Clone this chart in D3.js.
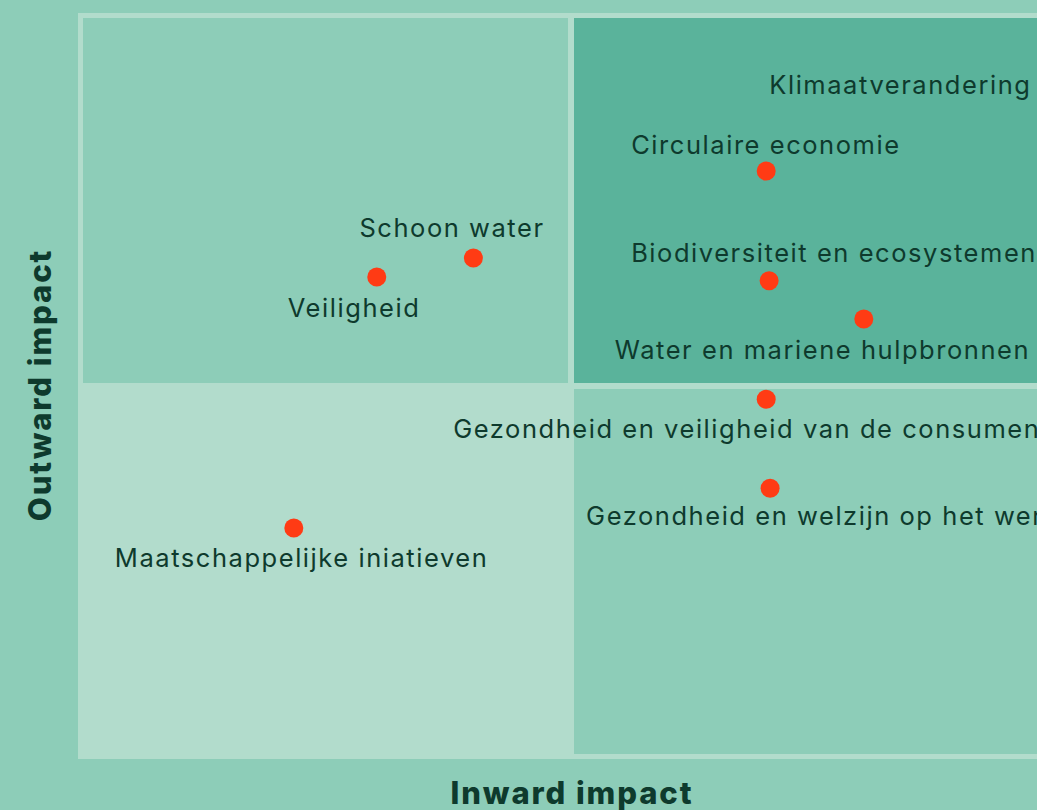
<!DOCTYPE html>
<html>
<head>
<meta charset="utf-8">
<script src="https://cdn.jsdelivr.net/npm/d3@7"></script>
<style>
  html, body { margin: 0; padding: 0; background: #8dcdb8; overflow: hidden; }
  svg { display: block; }
</style>
</head>
<body>
<div id="chart"></div>
<script>
// ---- data ----
const topics = [
  "Klimaatverandering",
  "Circulaire economie",
  "Schoon water",
  "Biodiversiteit en ecosystemen",
  "Veiligheid",
  "Water en mariene hulpbronnen",
  "Gezondheid en veiligheid van de consumenten",
  "Gezondheid en welzijn op het werk",
  "Maatschappelijke iniatieven"
];
const inwardImpact  = [9.9, 7.0, 4.0, 7.03, 3.01, 8.0, 7.0, 7.04, 2.16];
const outwardImpact = [8.71, 7.92, 6.74, 6.43, 6.48, 5.91, 4.82, 3.61, 3.07];
const xTitle = "Inward impact";
const yTitle = "Outward impact";

// ---- layout ----
const W = 1037, H = 810;
const labelDx = [-280, -135, -114, -138, -89, -249, -313, -184, -179];
const labelDy = [-19, -17, -21, -19, 40, 40, 39, 37, 39];

const svg = d3.select("#chart").append("svg").attr("width", W).attr("height", H);

const x = d3.scaleLinear().domain([0, 10]).range([83, 1059]);
const y = d3.scaleLinear().domain([0, 10]).range([754, 18]);

const colBg = "#8dcdb8", colLight = "#b2dccc", colDark = "#5ab39b";
const textCol = "#0e3a2d";

svg.append("rect").attr("width", W).attr("height", H).attr("fill", colBg);
// frame
svg.append("rect")
  .attr("x", x(0) - 5).attr("y", y(10) - 5)
  .attr("width", x(10) - x(0) + 10).attr("height", y(0) - y(10) + 10)
  .attr("fill", colLight);

const gap = 3;
const quads = [
  {x0: 0, x1: 5, y0: 5, y1: 10, fill: colBg},
  {x0: 5, x1: 10, y0: 5, y1: 10, fill: colDark},
  {x0: 0, x1: 5, y0: 0, y1: 5, fill: colLight},
  {x0: 5, x1: 10, y0: 0, y1: 5, fill: colBg}
];
svg.selectAll("rect.quad").data(quads).join("rect")
  .attr("class", "quad")
  .attr("x", d => x(d.x0) + (d.x0 === 5 ? gap : 0))
  .attr("y", d => y(d.y1) + (d.y1 === 5 ? gap : 0))
  .attr("width", d => x(d.x1) - x(d.x0) - gap)
  .attr("height", d => y(d.y0) - y(d.y1) - gap)
  .attr("fill", d => d.fill);

const pts = topics.map((t, i) => ({t, xi: inwardImpact[i], yo: outwardImpact[i], dx: labelDx[i], dy: labelDy[i]}));

svg.selectAll("circle.pt").data(pts).join("circle")
  .attr("class", "pt")
  .attr("cx", d => x(d.xi)).attr("cy", d => y(d.yo))
  .attr("r", 9.5).attr("fill", "#ff3b14");

svg.selectAll("text.lbl").data(pts).join("text")
  .attr("class", "lbl")
  .attr("x", d => x(d.xi) + d.dx).attr("y", d => y(d.yo) + d.dy)
  .attr("font-family", "Inter, 'Noto Sans', sans-serif")
  .attr("font-size", 25.5)
  .attr("letter-spacing", 1.55)
  .attr("fill", textCol)
  .text(d => d.t);

svg.append("text")
  .attr("x", x(5) + 1).attr("y", 804)
  .attr("text-anchor", "middle")
  .attr("font-family", "Inter, 'Noto Sans', sans-serif")
  .attr("font-weight", 800)
  .attr("font-size", 31)
  .attr("letter-spacing", 1.9)
  .attr("fill", textCol)
  .text(xTitle);

svg.append("text")
  .attr("transform", `translate(51, ${y(5) - 1}) rotate(-90)`)
  .attr("text-anchor", "middle")
  .attr("font-family", "Inter, 'Noto Sans', sans-serif")
  .attr("font-weight", 800)
  .attr("font-size", 31)
  .attr("letter-spacing", 1.9)
  .attr("fill", textCol)
  .text(yTitle);
</script>
</body>
</html>
